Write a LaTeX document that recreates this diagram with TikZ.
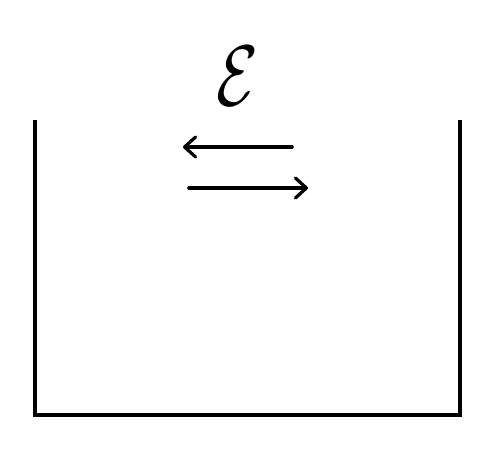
\documentclass[tikz,border=0pt]{standalone}
\usepackage{graphicx}
\usetikzlibrary{arrows.meta}
\begin{document}
\begin{tikzpicture}[x=1pt,y=-1pt,
  wall/.style={line width=4pt,line join=miter,line cap=butt},
  harrow/.style={line width=3.6pt,line cap=round,-{Straight Barb[length=11pt,width=20pt,line width=3.2pt,round]}}]
\useasboundingbox (0,0) rectangle (496,460);
\coordinate (tl) at (34.5,120);
\coordinate (bl) at (34.5,415);
\coordinate (br) at (459.5,415);
\coordinate (tr) at (459.5,120);
\draw[wall] (tl) -- (bl) -- (br) -- (tr);
\node[inner sep=0pt] (eps) at (237,76) {\scalebox{6.8}[8.6]{$\mathcal{E}$}};
\coordinate (a1s) at (292,147);
\coordinate (a1e) at (183,147);
\coordinate (a2s) at (189,188);
\coordinate (a2e) at (308,188);
\draw[harrow] (a1s) -- (a1e);
\draw[harrow] (a2s) -- (a2e);
\end{tikzpicture}
\end{document}
